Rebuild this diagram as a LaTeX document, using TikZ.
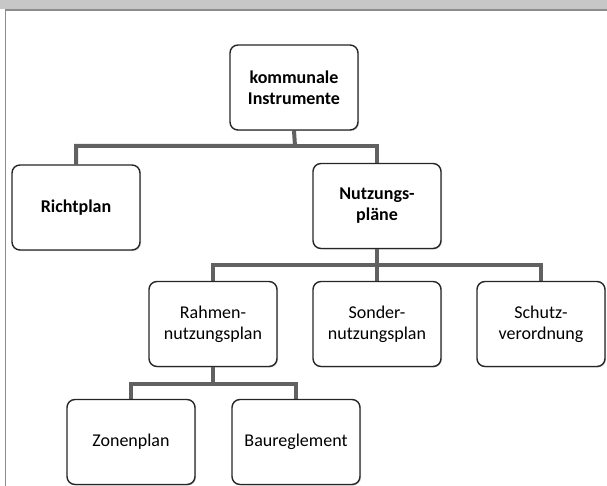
\documentclass[tikz,border=0pt]{standalone}
\usepackage{fontspec}
\setmainfont{Carlito}
\usetikzlibrary{shadows, backgrounds}

\tikzset{
    instbox/.style={draw=black!85, line width=1.4pt, fill=white, rounded corners=8pt,
        minimum width=128pt, minimum height=85pt, align=center, font=\fontsize{18}{21}\selectfont,
        drop shadow={shadow xshift=1pt, shadow yshift=-1pt, opacity=0.35}},
    conn/.style={draw=black!62, line width=4pt}
}

\begin{document}
\begin{tikzpicture}[x=1pt, y=-1pt]
        \useasboundingbox (0, 0) rectangle (607, 486);
        \fill[color=black!22] (0, 0) rectangle (607, 9.5);
        \draw[color=black!45, line width=1.6pt] (5.5, 38) -- (5.5, 10.2) -- (607, 10.2);
        \draw[color=black!45, line width=0.8pt] (5.5, 38) -- (5.5, 486);

        \node[instbox, font=\fontsize{18}{21}\selectfont\bfseries] (komm) at (294, 87.5) {kommunale\\Instrumente};
        \node[instbox, font=\fontsize{18}{21}\selectfont\bfseries] (richt) at (76, 207.5) {Richtplan};
        \node[instbox, font=\fontsize{18}{21}\selectfont\bfseries] (nutz) at (377, 206) {Nutzungs-\\pläne};
        \node[instbox] (rahmen) at (213, 324) {Rahmen-\\nutzungsplan};
        \node[instbox] (sonder) at (377, 324) {Sonder-\\nutzungsplan};
        \node[instbox] (schutz) at (541, 324) {Schutz-\\verordnung};
        \node[instbox] (zonen) at (131, 442) {Zonenplan};
        \node[instbox] (bau) at (296, 442) {Baureglement};

        % connectors
        \coordinate (bus1) at (295, 146);
        \coordinate (bus2) at (377, 265);
        \coordinate (bus3) at (213, 384);
        \begin{pgfonlayer}{background}
        \draw[conn] (komm.south) -- (bus1) -| (richt.north);
        \draw[conn] (bus1) -| (nutz.north);
        \draw[conn] (nutz.south) -- (bus2) -| (rahmen.north);
        \draw[conn] (bus2) -- (sonder.north);
        \draw[conn] (bus2) -| (schutz.north);
        \draw[conn] (rahmen.south) -- (bus3) -| (zonen.north);
        \draw[conn] (bus3) -| (bau.north);
        \end{pgfonlayer}
    \end{tikzpicture}
\end{document}
